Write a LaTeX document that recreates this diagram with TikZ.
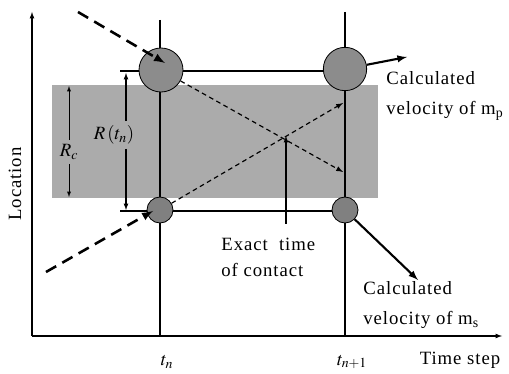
\documentclass[tikz,border=0pt]{standalone}
\usepackage{mathptmx}
\usepackage{fontspec}
\setmainfont{Liberation Serif}[LetterSpace=5]
\begin{document}
\begin{tikzpicture}[>=latex,x=0.03cm,y=-0.03cm,line width=0.9pt,font=\fontsize{16}{22}\selectfont,
	ball/.style={circle,draw=black,line width=0.7pt,fill=black!45,inner sep=0pt,minimum size=#1},
	vel/.style={->,line width=1.8pt},
	thickpath/.style={->,line width=2.2pt,dash pattern=on 10pt off 6pt},
	trace/.style={->,line width=1pt,dash pattern=on 4pt off 3pt}]
		\useasboundingbox (0,0) rectangle (509,374);
		\fill[black!33] (52,85) rectangle (378,198);
		\coordinate (O) at (32,336);\coordinate (yend) at (32,12);\coordinate (xend) at (502,336);
		\draw[->] (O) -- (yend);\draw[->] (O) -- (xend);
		\node[rotate=90] (loc) at (15,184) {Location};\node (tstep) at (460,360) {Time step};
		\draw (160,20) -- (160,336);\draw (345,12) -- (345,336);
		\draw (120,71) -- (345,71);\draw (120,211) -- (345,211);
		\node (tn) at (167,362) {$t_n$};\node (tn1) at (352,362) {$t_{n+1}$};
		% particle positions at t_n and t_{n+1}
		\node[ball=1.32cm] (pn) at (161,70) {};\node[ball=1.30cm] (pn1) at (345,69) {};
		\node[ball=0.78cm,fill=black!50] (sn) at (160,210) {};\node[ball=0.78cm,fill=black!50] (sn1) at (345,210) {};
		\coordinate (pin) at (78,12);\coordinate (sin) at (46,272);
		\draw[thickpath] (pin) -- (165,63);\draw[thickpath] (sin) -- (153,211);
		\coordinate (pend) at (343,172);\coordinate (send) at (343,103);
		\draw[trace] (pn) -- (pend);\draw[trace] (sn) -- (send);
		\coordinate (vp) at (407,57);\coordinate (vs) at (418,280);
		\draw[vel] (pn1) -- (vp);\draw[vel] (sn1) -- (vs);
		% contact
		\coordinate (hit) at (286,136);\coordinate (hitfoot) at (286,224);
		\draw[->] (hitfoot) -- (hit);
		\node[align=left,anchor=west] (exact) at (217,257) {Exact \ time\\of contact};
		\node[align=left,anchor=west,font=\fontsize{16}{26}\selectfont] (mp) at (382,96) {Calculated\\velocity of m\textsubscript{p}};
		\node[align=left,anchor=west,font=\fontsize{16}{26}\selectfont] (ms) at (359,305) {Calculated\\velocity of m\textsubscript{s}};
		% radii
		\node (rc) at (69,152) {$R_c$};\coordinate (rx) at (67,0);
		\draw[->,line width=0.6pt] (rc.north) -- (rc.north |- 0,86);\draw[->,line width=0.6pt] (rc.south) -- (rc.south |- 0,197);
		\node (rt) at (114,135) {$R\,(t_n)$};\coordinate (tx) at (126,0);
		\draw[->] (rt.north -| tx) -- (126,73);\draw[->] (rt.south -| tx) -- (126,210);
	\end{tikzpicture}
\end{document}
